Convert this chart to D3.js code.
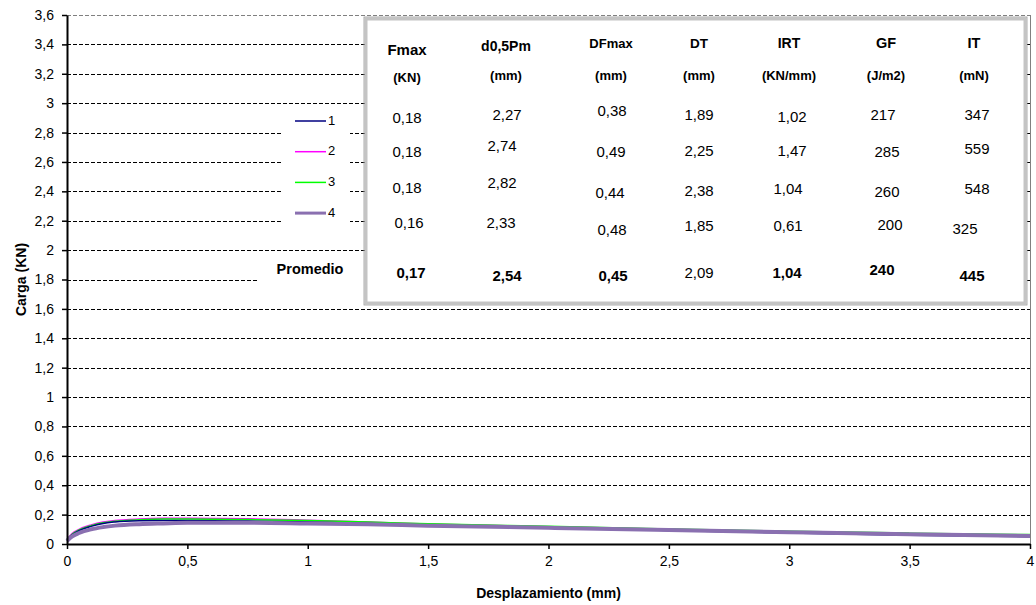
<!DOCTYPE html>
<html>
<head>
<meta charset="utf-8">
<script src="https://cdn.jsdelivr.net/npm/d3@7"></script>
<style>
  body { margin: 0; background: #fff; }
  text { font-family: "Liberation Sans", Arial, sans-serif; }
</style>
</head>
<body>
<div id="root"></div>
<script>
// load curves (KN) vs displacement (mm)
var xDesp = [0, 0.02, 0.05, 0.1, 0.15, 0.2, 0.3, 0.4, 0.5, 0.75, 1, 1.25, 1.5, 2, 2.5, 3, 3.5, 4];
var carga1 = [0.03, 0.06, 0.09, 0.12, 0.14, 0.15, 0.158, 0.16, 0.16, 0.156, 0.15, 0.14, 0.126, 0.11, 0.092, 0.075, 0.06, 0.05];
var carga2 = [0.03, 0.07, 0.10, 0.13, 0.15, 0.16, 0.17, 0.175, 0.176, 0.172, 0.162, 0.15, 0.136, 0.118, 0.1, 0.084, 0.07, 0.06];
var carga3 = [0.03, 0.065, 0.095, 0.125, 0.145, 0.155, 0.165, 0.17, 0.17, 0.166, 0.16, 0.15, 0.137, 0.12, 0.102, 0.086, 0.074, 0.064];
var carga4 = [0.02, 0.05, 0.075, 0.1, 0.115, 0.125, 0.135, 0.14, 0.144, 0.145, 0.14, 0.134, 0.125, 0.11, 0.095, 0.08, 0.066, 0.055];
var seriesNames = ["1", "2", "3", "4"];
var seriesColors = ["#000080", "#ff00ff", "#00ff00", "#8a70b0"];

var xTicks = [0, 0.5, 1, 1.5, 2, 2.5, 3, 3.5, 4];
var yTicks = [0, 0.2, 0.4, 0.6, 0.8, 1, 1.2, 1.4, 1.6, 1.8, 2, 2.2, 2.4, 2.6, 2.8, 3, 3.2, 3.4, 3.6];

// results table
var tabHeaders = ["Fmax", "d0,5Pm", "DFmax", "DT", "IRT", "GF", "IT"];
var tabUnits = ["(KN)", "(mm)", "(mm)", "(mm)", "(KN/mm)", "(J/m2)", "(mN)"];
var tabRow1 = ["0,18", "2,27", "0,38", "1,89", "1,02", "217", "347"];
var tabRow2 = ["0,18", "2,74", "0,49", "2,25", "1,47", "285", "559"];
var tabRow3 = ["0,18", "2,82", "0,44", "2,38", "1,04", "260", "548"];
var tabRow4 = ["0,16", "2,33", "0,48", "1,85", "0,61", "200", "325"];
var tabPromedio = ["0,17", "2,54", "0,45", "2,09", "1,04", "240", "445"];

var width = 1036, height = 605;
var margin = {left: 67, right: 6, top: 15, bottom: 61};

var svg = d3.select("#root").append("svg")
  .attr("width", width).attr("height", height);

var x = d3.scaleLinear().domain([0, 4]).range([margin.left, width - margin.right]);
var y = d3.scaleLinear().domain([0, 3.6]).range([height - margin.bottom, margin.top]);
var comma = function(d) { return String(d).replace(".", ","); };

// gridlines
svg.append("g").selectAll("line")
  .data(yTicks.filter(function(d) { return d > 0 && d < 3.6; }))
  .join("line")
  .attr("x1", x(0)).attr("x2", x(4))
  .attr("y1", function(d) { return Math.round(y(d)) + 0.5; })
  .attr("y2", function(d) { return Math.round(y(d)) + 0.5; })
  .attr("stroke", "#000").attr("stroke-width", 1)
  .attr("stroke-dasharray", "4,2");

// plot border top / right
svg.append("line")
  .attr("x1", x(0)).attr("x2", x(4))
  .attr("y1", Math.round(y(3.6)) + 0.5).attr("y2", Math.round(y(3.6)) + 0.5)
  .attr("stroke", "#808080").attr("stroke-dasharray", "4,2");
svg.append("line")
  .attr("x1", Math.round(x(4)) + 0.5).attr("x2", Math.round(x(4)) + 0.5)
  .attr("y1", y(3.6)).attr("y2", y(0))
  .attr("stroke", "#808080");

// curves
var allSeries = [carga1, carga2, carga3, carga4];
var line = d3.line()
  .x(function(d, i) { return x(xDesp[i]); })
  .y(function(d) { return y(d); })
  .curve(d3.curveMonotoneX);
var widths = [1.5, 1.5, 1.5, 4];
[1, 2, 0, 3].forEach(function(k) {
  svg.append("path")
    .datum(allSeries[k])
    .attr("d", line)
    .attr("fill", "none")
    .attr("stroke", seriesColors[k])
    .attr("stroke-width", widths[k]);
});

// axes
var yAxis = d3.axisLeft(y).tickValues(yTicks).tickFormat(comma).tickSize(5).tickSizeOuter(0);
var xAxis = d3.axisBottom(x).tickValues(xTicks).tickFormat(comma).tickSize(5).tickSizeOuter(0);

var gy = svg.append("g").attr("transform", "translate(" + x(0) + ",0)").call(yAxis);
var gx = svg.append("g").attr("transform", "translate(0," + y(0) + ")").call(xAxis);
[gy, gx].forEach(function(g) {
  g.select(".domain").attr("stroke", "#000").attr("stroke-width", 2);
  g.selectAll(".tick line").attr("stroke", "#000").attr("stroke-width", 1.5);
  g.selectAll(".tick text").attr("font-family", "Liberation Sans, Arial, sans-serif")
    .attr("font-size", 14).attr("fill", "#000");
});
gy.selectAll(".tick text").attr("x", -13);
gx.selectAll(".tick text").attr("y", 12);

// axis titles
svg.append("text")
  .attr("x", (x(0) + x(4)) / 2).attr("y", 598)
  .attr("text-anchor", "middle").attr("font-size", 14).attr("font-weight", "bold")
  .text("Desplazamiento (mm)");
svg.append("text")
  .attr("transform", "translate(26," + y(1.8) + ") rotate(-90)")
  .attr("text-anchor", "middle").attr("font-size", 14).attr("font-weight", "bold")
  .text("Carga (KN)");

// legend
var leg = svg.append("g");
leg.append("rect").attr("x", 282).attr("y", 108).attr("width", 68).attr("height", 128).attr("fill", "#fff");
seriesNames.forEach(function(name, i) {
  var ly = 121 + i * 30.7;
  leg.append("line").attr("x1", 295).attr("x2", 326).attr("y1", ly).attr("y2", ly)
    .attr("stroke", seriesColors[i]).attr("stroke-width", i === 3 ? 3 : 1.5);
  leg.append("text").attr("x", 328).attr("y", ly - 1).attr("dominant-baseline", "central")
    .attr("font-size", 13).text(name);
});

// Promedio label
svg.append("rect").attr("x", 257).attr("y", 256).attr("width", 108).attr("height", 44).attr("fill", "#fff");
svg.append("text").attr("x", 310).attr("y", 269).attr("dominant-baseline", "central")
  .attr("text-anchor", "middle").attr("font-size", 14.5).attr("font-weight", "bold").text("Promedio");

// table box
svg.append("rect").attr("x", 366).attr("y", 19).attr("width", 659).attr("height", 284)
  .attr("fill", "#fff").attr("stroke", "#c4c4c4").attr("stroke-width", 3);
svg.append("rect").attr("x", 364).attr("y", 17).attr("width", 663).attr("height", 288)
  .attr("fill", "none").attr("stroke", "#9a9a9a").attr("stroke-width", 0.8);

var colX = [407, 506, 611, 699, 789, 886, 974];
var headY = [49, 46, 43, 43, 43, 43, 43];
var headSize = [15, 14, 13, 13.5, 14, 14.5, 14.5];
var unitY = [77, 75, 75, 75, 75, 75, 75];
var rows = [tabRow1, tabRow2, tabRow3, tabRow4, tabPromedio];
var rowY = [
  [117, 114, 110, 114, 116, 114, 114],
  [151, 145, 151, 150, 150, 151, 148],
  [187, 182, 192, 190, 188, 191, 188],
  [222, 222, 229, 225, 225, 224, 228],
  [272, 275, 275, 272, 272, 269, 275]
];
var rowDx = [
  [0, 1, 1, 0, 3, -3, 3],
  [0, -4, 0, 0, 3, 1, 3],
  [0, -4, -1, 0, -1, 1, 3],
  [2, -5, 1, 0, -1, 4, -9],
  [4, 1, 2, 0, -2, -4, -2]
];

var tab = svg.append("g").attr("text-anchor", "middle").attr("dominant-baseline", "central");
tabHeaders.forEach(function(h, j) {
  tab.append("text").attr("x", colX[j]).attr("y", headY[j])
    .attr("font-size", headSize[j]).attr("font-weight", "bold").text(h);
  tab.append("text").attr("x", colX[j]).attr("y", unitY[j])
    .attr("font-size", 13).attr("font-weight", "bold").text(tabUnits[j]);
});
rows.forEach(function(r, i) {
  r.forEach(function(v, j) {
    var bold = i === 4 && j !== 3;
    tab.append("text").attr("x", colX[j] + rowDx[i][j]).attr("y", rowY[i][j])
      .attr("font-size", 15).attr("font-weight", bold ? "bold" : "normal").text(v);
  });
});
</script>
</body>
</html>
